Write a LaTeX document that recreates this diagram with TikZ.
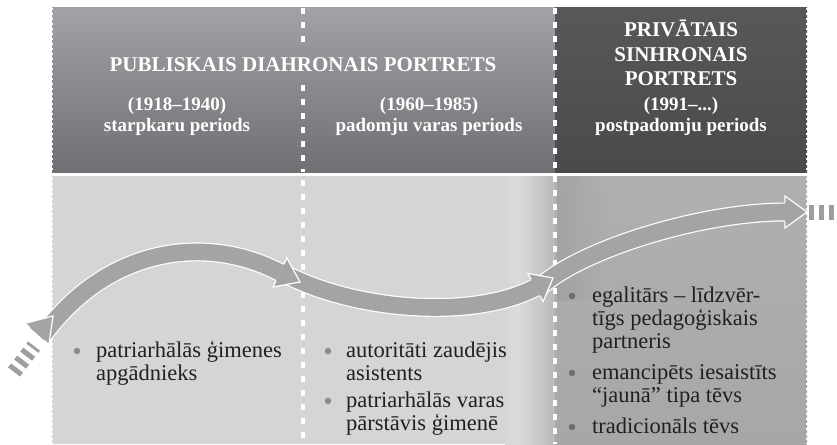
\documentclass[tikz,border=0pt]{standalone}
\usepackage{fontspec}
\setmainfont{Liberation Serif}
\usetikzlibrary{calc}
\definecolor{topA}{HTML}{A2A2A6}
\definecolor{topB}{HTML}{707074}
\definecolor{topC}{HTML}{58585B}
\definecolor{topD}{HTML}{4A4A4D}
\definecolor{botA}{HTML}{D5D5D5}
\definecolor{botB}{HTML}{DCDCDC}
\definecolor{botC}{HTML}{B8B8B8}
\definecolor{botD}{HTML}{B0B0B0}
\definecolor{botE}{HTML}{A7A7A7}
\definecolor{bandgray}{HTML}{A4A4A4}
\definecolor{dashgray}{HTML}{9E9E9E}
\definecolor{txt}{HTML}{231F20}
\definecolor{bulletgray}{HTML}{8C8C8C}
\definecolor{bulletdark}{HTML}{6E6E6E}
\tikzset{
  body/.style={anchor=base west, inner sep=0pt, text=txt, font=\fontsize{22.5}{24}\selectfont},
  hd/.style={anchor=base, inner sep=0pt, text=white, font=\bfseries\fontsize{21}{24}\selectfont},
  sub/.style={anchor=base, inner sep=0pt, text=white, font=\bfseries\fontsize{19}{22}\selectfont},
  bul/.style={circle, fill=bulletgray, inner sep=0pt, minimum size=6.5pt},
  buld/.style={bul, fill=bulletdark},
  divider/.style={white, line width=4pt, dash pattern=on 6pt off 8pt},
  perf/.style={white, line width=2pt, dash pattern=on 2pt off 3pt},
  bandout/.style={white, line width=19pt},
  bandin/.style={bandgray, line width=16.6pt},
  headfill/.style={fill=bandgray, draw=white, line width=1.2pt, line join=miter},
  tailbars/.style={dashgray, line width=15pt, dash pattern=on 5pt off 5pt}
}
\newcommand{\arrhead}[3]{% base, tip, name prefix
  \coordinate (#3l1) at ($(#1)!9.5pt!90:(#2)$);
  \coordinate (#3l2) at ($(#1)!16pt!90:(#2)$);
  \coordinate (#3r1) at ($(#1)!9.5pt!-90:(#2)$);
  \coordinate (#3r2) at ($(#1)!16pt!-90:(#2)$);
  \filldraw[headfill] (#3l1) -- (#3l2) -- (#2) -- (#3r2) -- (#3r1);
}
\begin{document}
\begin{tikzpicture}[x=1pt,y=-1pt]
\useasboundingbox (0,0) rectangle (837,444);
% top band
\shade[top color=topA, bottom color=topB] (52,8) rectangle (555,172);
\shade[top color=topC, bottom color=topD] (555,8) rectangle (807,172);
% bottom band
\fill[botA] (52,176) rectangle (505,444);
\shade[left color=botA, right color=botB] (505,176) rectangle (517,444);
\shade[left color=botB, right color=botC] (517,176) rectangle (555.5,444);
\shade[top color=botD, bottom color=botE] (555,176) rectangle (807,444);
\shade[left color=botE!88!black, right color=botD, opacity=0.4] (557,176) rectangle (610,300);
% perforated edges
\draw[perf] (52,8) -- (52,444);
\draw[perf] (807,8) -- (807,444);
% dividers
\draw[divider] (303,8) -- (303,45);
\draw[divider] (303,85) -- (303,172);
\draw[divider] (303,180) -- (303,444);
\draw[divider] (555,8) -- (555,444);
% headings
\node[hd] (title1) at (303,71) {PUBLISKAIS DIAHRONAIS PORTRETS};
\node[sub] (y1) at (177,110) {(1918–1940)};
\node[sub] (p1) at (177,131) {starpkaru periods};
\node[sub] (y2) at (429,110) {(1960–1985)};
\node[sub] (p2) at (429,131) {padomju varas periods};
\node[hd] (t3a) at (681,37) {PRIVĀTAIS};
\node[hd] (t3b) at (681,61) {SINHRONAIS};
\node[hd] (t3c) at (681,85) {PORTRETS};
\node[sub] (y3) at (681,110) {(1991–...)};
\node[sub] (p3) at (681,131) {postpadomju periods};
% tail dashes
\coordinate (ld1) at (14,372);
\coordinate (ld2) at (34,346);
\draw[tailbars] (ld1) -- (ld2);
\coordinate (rd1) at (809,212);
\coordinate (rd2) at (840,212);
\draw[tailbars] (rd1) -- (rd2);
% segment 3
\coordinate (S3) at (540,287);
\coordinate (c31) at (580,250);
\coordinate (c32) at (700,212);
\coordinate (B3) at (785,212);
\coordinate (E3) at (807,212);
\draw[bandout] (S3) .. controls (c31) and (c32) .. (B3);
\draw[bandin] (S3) .. controls (c31) and (c32) .. (B3);
\arrhead{B3}{E3}{h3}
% segment 2
\coordinate (S2) at (285,274);
\coordinate (c21) at (356,311);
\coordinate (c22) at (473,320);
\coordinate (B2) at (535.5,287.5);
\coordinate (E2) at (553,278);
\draw[bandout] (S2) .. controls (c21) and (c22) .. (B2);
\draw[bandin] (S2) .. controls (c21) and (c22) .. (B2);
\arrhead{B2}{E2}{h2}
% segment 1
\coordinate (S1) at (44,334);
\coordinate (c11) at (110,245);
\coordinate (c12) at (209,235);
\coordinate (B1) at (280,272.5);
\coordinate (E1) at (300,282);
\draw[bandout] (S1) .. controls (c11) and (c12) .. (B1);
\draw[bandin] (S1) .. controls (c11) and (c12) .. (B1);
\arrhead{B1}{E1}{h1}
% incoming head
\coordinate (B0) at (37,334);
\coordinate (E0) at (53,316);
\arrhead{B0}{E0}{h0}
% column 1 text
\node[bul] (b11) at (77,351) {};
\node[body] (l11) at (96,357) {patriarhālās ģimenes};
\node[body] (l12) at (96,380) {apgādnieks};
% column 2 text
\node[bul] (b21) at (328,351) {};
\node[body] (l21) at (346,357) {autoritāti zaudējis};
\node[body] (l22) at (346,380) {asistents};
\node[bul] (b22) at (328,401) {};
\node[body] (l23) at (346,407) {patriarhālās varas};
\node[body] (l24) at (346,430) {pārstāvis ģimenē};
% column 3 text
\node[buld] (b31) at (572,296) {};
\node[body] (l31) at (592,302) {egalitārs – līdzvēr-};
\node[body] (l32) at (592,325) {tīgs pedagoģiskais};
\node[body] (l33) at (592,348) {partneris};
\node[buld] (b32) at (572,373) {};
\node[body] (l34) at (592,379) {emancipēts iesaistīts};
\node[body] (l35) at (592,402) {“jaunā” tipa tēvs};
\node[buld] (b33) at (572,427) {};
\node[body] (l36) at (592,433) {tradicionāls tēvs};
\end{tikzpicture}
\end{document}
